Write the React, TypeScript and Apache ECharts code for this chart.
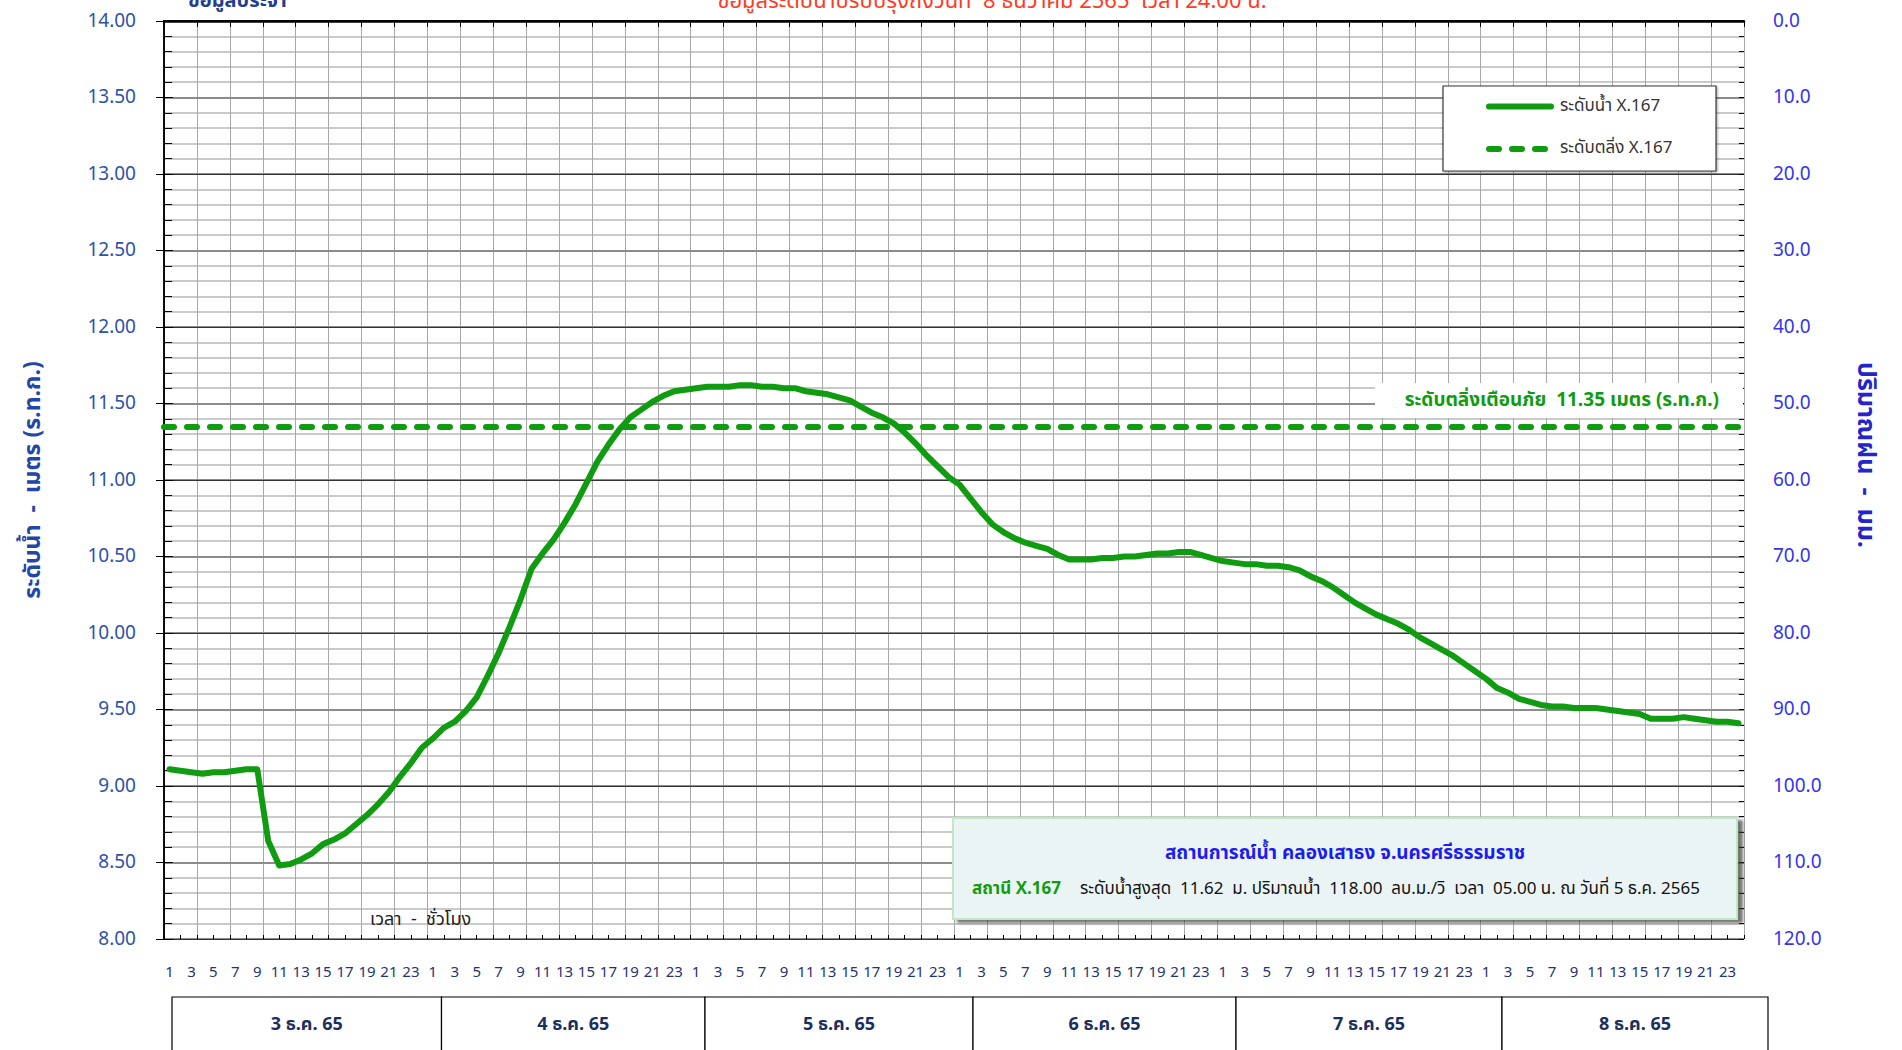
import React, { useEffect, useRef } from "react";
import * as echarts from "echarts";

const FONT = "Tahoma, 'Noto Sans Thai', 'Noto Sans', 'DejaVu Sans', sans-serif";

const hourLabels = [
  "1", "2", "3", "4", "5", "6", "7", "8", "9", "10", "11", "12",
  "13", "14", "15", "16", "17", "18", "19", "20", "21", "22", "23", "24",
];
const dayLabels = ["3 ธ.ค. 65", "4 ธ.ค. 65", "5 ธ.ค. 65", "6 ธ.ค. 65", "7 ธ.ค. 65", "8 ธ.ค. 65"];

const waterLevel = [
  // 3 Dec
  9.11, 9.10, 9.09, 9.08, 9.09, 9.09, 9.10, 9.11, 9.11, 8.64, 8.48, 8.49,
  8.52, 8.56, 8.62, 8.65, 8.69, 8.75, 8.81, 8.88, 8.96, 9.06, 9.15, 9.25,
  // 4 Dec
  9.31, 9.38, 9.42, 9.49, 9.58, 9.72, 9.87, 10.04, 10.22, 10.42, 10.52, 10.61,
  10.72, 10.84, 10.98, 11.12, 11.23, 11.33, 11.41, 11.46, 11.51, 11.55, 11.58, 11.59,
  // 5 Dec
  11.60, 11.61, 11.61, 11.61, 11.62, 11.62, 11.61, 11.61, 11.60, 11.60, 11.58, 11.57,
  11.56, 11.54, 11.52, 11.48, 11.44, 11.41, 11.37, 11.31, 11.24, 11.16, 11.09, 11.02,
  // 6 Dec
  10.97, 10.88, 10.79, 10.71, 10.66, 10.62, 10.59, 10.57, 10.55, 10.51, 10.48, 10.48,
  10.48, 10.49, 10.49, 10.50, 10.50, 10.51, 10.52, 10.52, 10.53, 10.53, 10.51, 10.49,
  // 7 Dec
  10.47, 10.46, 10.45, 10.45, 10.44, 10.44, 10.43, 10.41, 10.37, 10.34, 10.30, 10.25,
  10.20, 10.16, 10.12, 10.09, 10.06, 10.02, 9.97, 9.93, 9.89, 9.85, 9.80, 9.75,
  // 8 Dec
  9.70, 9.64, 9.61, 9.57, 9.55, 9.53, 9.52, 9.52, 9.51, 9.51, 9.51, 9.50,
  9.49, 9.48, 9.47, 9.44, 9.44, 9.44, 9.45, 9.44, 9.43, 9.42, 9.42, 9.41,
];

const bankLevel = 11.35;
const levelMin = 8;
const levelMax = 14;
const levelStep = 0.5;
const rainMin = 0;
const rainMax = 120;
const rainStep = 10;

const seriesNames = ["ระดับน้ำ X.167", "ระดับตลิ่ง X.167"];
const titleText = "ข้อมูลระดับน้ำปรับปรุงถึงวันที่  8 ธันวาคม 2565  เวลา 24.00 น.";
const topLeftText = "ข้อมูลประจำ";
const stationTitle = "สถานการณ์น้ำ คลองเสาธง จ.นครศรีธรรมราช";
const stationName = "สถานี X.167";
const maxLevel = 11.62;
const maxFlow = 118.0;
const maxTime = "05.00";
const maxDate = "5 ธ.ค. 2565";

const categories = dayLabels.flatMap((d) => hourLabels.map((h) => d + "|" + h));

const GREEN = "#109c10";

// layout of the day boxes under the axis (pixel edges)
const dayEdges = [172, 441.5, 705, 973, 1236, 1502, 1768];

export default function App() {
  const ref = useRef<HTMLDivElement>(null);

  useEffect(() => {
    if (!ref.current) return;
    const chart = echarts.init(ref.current, undefined, { renderer: "svg" });

    const hidden = {
      axisLine: { show: false },
      axisLabel: { show: false },
    };

    const dayGraphics: any[] = [];
    dayLabels.forEach((d, i) => {
      const x0 = dayEdges[i];
      const x1 = dayEdges[i + 1];
      dayGraphics.push({
        type: "rect",
        shape: { x: x0, y: 997, width: x1 - x0, height: 70 },
        style: { fill: "#fff", stroke: "#000", lineWidth: 1.2 },
        z: 5,
      });
      dayGraphics.push({
        type: "text",
        x: (x0 + x1) / 2,
        y: 1024,
        style: {
          text: d,
          fill: "#1b2f5e",
          font: "bold 18px " + FONT,
          textAlign: "center",
          textVerticalAlign: "middle",
        },
        z: 6,
      });
    });

    const option: any = {
      animation: false,
      backgroundColor: "#ffffff",
      textStyle: { fontFamily: FONT },
      grid: { left: 164, top: 21, width: 1580, height: 918, containLabel: false },
      xAxis: [
        {
          type: "category",
          data: categories,
          boundaryGap: true,
          position: "bottom",
          axisLine: { show: true, lineStyle: { color: "#000", width: 1.5 } },
          axisTick: { show: false },
          splitLine: { show: false },
          axisLabel: {
            interval: 1,
            formatter: (v: string) => v.split("|")[1],
            color: "#1f3470",
            fontSize: 15,
            margin: 26,
          },
          z: 4,
        },
        {
          type: "value",
          min: 0,
          max: 144,
          interval: 3,
          position: "bottom",
          ...hidden,
          axisTick: { show: true, length: 6, lineStyle: { color: "#000" } },
          splitLine: { show: true, lineStyle: { color: "#a8a8a8", width: 1 } },
          z: 1,
        },
        {
          type: "value",
          min: 0,
          max: 144,
          interval: 1.5,
          position: "bottom",
          ...hidden,
          axisTick: { show: true, inside: true, length: 4, lineStyle: { color: "#000" } },
          splitLine: { show: false },
          z: 4,
        },
        {
          type: "value",
          min: 0,
          max: 144,
          position: "top",
          axisLine: { show: true, lineStyle: { color: "#000", width: 2.5 } },
          axisLabel: { show: false },
          axisTick: { show: false },
          splitLine: { show: false },
          z: 4,
        },
      ],
      yAxis: [
        {
          type: "value",
          min: levelMin,
          max: levelMax,
          interval: levelStep,
          position: "left",
          axisLine: { show: true, lineStyle: { color: "#000", width: 1.5 } },
          axisTick: { show: true, length: 8, lineStyle: { color: "#000" } },
          axisLabel: {
            formatter: (v: number) => v.toFixed(2),
            color: "#2d52a8",
            fontSize: 19,
            margin: 28,
          },
          splitLine: { show: false },
          name: "ระดับน้ำ  -  เมตร (ร.ท.ก.)",
          nameLocation: "middle",
          nameGap: 120,
          nameRotate: 90,
          nameTextStyle: { color: "#2347a8", fontSize: 23, fontWeight: "bold" },
          z: 4,
        },
        {
          type: "value",
          min: rainMin,
          max: rainMax,
          interval: rainStep,
          inverse: true,
          position: "right",
          axisLine: { show: true, lineStyle: { color: "#000", width: 1.5 } },
          axisTick: { show: true, length: 9, lineStyle: { color: "#000" } },
          axisLabel: {
            formatter: (v: number) => v.toFixed(1),
            color: "#3434f0",
            fontSize: 19,
            margin: 29,
          },
          splitLine: { show: false },
          z: 4,
        },
        {
          type: "value",
          min: levelMin,
          max: levelMax,
          interval: 0.1,
          position: "left",
          ...hidden,
          axisTick: { show: true, inside: true, length: 8, lineStyle: { color: "#000" } },
          splitLine: { show: true, lineStyle: { color: "#cacaca", width: 2 } },
          z: 0,
        },
        {
          type: "value",
          min: levelMin,
          max: levelMax,
          interval: levelStep,
          position: "left",
          ...hidden,
          axisTick: { show: false },
          splitLine: { show: true, lineStyle: { color: "#8c8c8c", width: 2 } },
          z: 2,
        },
        {
          type: "value",
          min: levelMin,
          max: levelMax,
          interval: 1,
          position: "left",
          ...hidden,
          axisTick: { show: false },
          splitLine: { show: true, lineStyle: { color: "#333333", width: 1 } },
          z: 3,
        },
        {
          type: "value",
          min: rainMin,
          max: rainMax,
          interval: 2,
          inverse: true,
          position: "right",
          ...hidden,
          axisTick: { show: true, inside: true, length: 5, lineStyle: { color: "#000" } },
          splitLine: { show: false },
          z: 4,
        },
      ],
      series: [
        {
          name: seriesNames[0],
          type: "line",
          xAxisIndex: 0,
          yAxisIndex: 0,
          data: waterLevel,
          symbol: "none",
          smooth: false,
          lineStyle: { color: GREEN, width: 6, join: "round", cap: "round" },
          z: 10,
          markLine: {
            silent: true,
            symbol: ["none", "none"],
            label: { show: false },
            lineStyle: { color: GREEN, width: 6, type: [10, 13], cap: "round" },
            data: [{ name: seriesNames[1], yAxis: bankLevel }],
          },
        },
      ],
      graphic: [
        // top texts (cut off at top, as in the source image)
        {
          type: "text",
          x: 992,
          y: 1,
          style: {
            text: titleText,
            fill: "#ff3b1f",
            font: "22px " + FONT,
            textAlign: "center",
            textVerticalAlign: "middle",
          },
          z: 6,
        },
        {
          type: "text",
          x: 188,
          y: 1,
          style: {
            text: topLeftText,
            fill: "#1f3f8f",
            font: "bold 20px " + FONT,
            textAlign: "left",
            textVerticalAlign: "middle",
          },
          z: 6,
        },
        // right axis name
        {
          type: "text",
          x: 1866,
          y: 455,
          rotation: -Math.PI / 2,
          style: {
            text: "ปริมาณฝน  -  มม.",
            fill: "#2424cc",
            font: "bold 25px " + FONT,
            textAlign: "center",
            textVerticalAlign: "middle",
          },
          z: 6,
        },
        // legend
        {
          type: "rect",
          shape: { x: 1443, y: 86, width: 273, height: 85 },
          style: {
            fill: "#fff",
            stroke: "#3a3a3a",
            lineWidth: 1.2,
            shadowBlur: 2,
            shadowOffsetX: 1,
            shadowOffsetY: 1,
            shadowColor: "rgba(0,0,0,0.35)",
          },
          z: 5,
        },
        {
          type: "line",
          shape: { x1: 1489, y1: 106.5, x2: 1551, y2: 106.5 },
          style: { stroke: GREEN, lineWidth: 6, lineCap: "round" },
          z: 6,
        },
        {
          type: "line",
          shape: { x1: 1489, y1: 149, x2: 1551, y2: 149 },
          style: { stroke: GREEN, lineWidth: 6, lineCap: "round", lineDash: [10, 13] },
          z: 6,
        },
        {
          type: "text",
          x: 1560,
          y: 106,
          style: {
            text: seriesNames[0],
            fill: "#333",
            font: "17px " + FONT,
            textAlign: "left",
            textVerticalAlign: "middle",
          },
          z: 6,
        },
        {
          type: "text",
          x: 1560,
          y: 148,
          style: {
            text: seriesNames[1],
            fill: "#333",
            font: "17px " + FONT,
            textAlign: "left",
            textVerticalAlign: "middle",
          },
          z: 6,
        },
        // bank label
        {
          type: "rect",
          shape: { x: 1375, y: 383, width: 368, height: 35 },
          style: { fill: "#fff" },
          z: 5,
        },
        {
          type: "text",
          x: 1719,
          y: 400,
          style: {
            text: "ระดับตลิ่งเตือนภัย  " + bankLevel.toFixed(2) + " เมตร (ร.ท.ก.)",
            fill: GREEN,
            font: "bold 19px " + FONT,
            textAlign: "right",
            textVerticalAlign: "middle",
          },
          z: 6,
        },
        // info box
        {
          type: "rect",
          shape: { x: 953, y: 818, width: 784, height: 101 },
          style: {
            fill: "#eaf4f4",
            stroke: "#bfeabf",
            lineWidth: 2,
            shadowBlur: 3,
            shadowOffsetX: 5,
            shadowOffsetY: 3,
            shadowColor: "rgba(60,60,60,0.7)",
          },
          z: 5,
        },
        {
          type: "text",
          x: 1345,
          y: 853,
          style: {
            text: stationTitle,
            fill: "#1c1cf0",
            font: "bold 19px " + FONT,
            textAlign: "center",
            textVerticalAlign: "middle",
          },
          z: 6,
        },
        {
          type: "text",
          x: 972,
          y: 889,
          style: {
            text: stationName,
            fill: GREEN,
            font: "bold 17px " + FONT,
            textAlign: "left",
            textVerticalAlign: "middle",
          },
          z: 6,
        },
        {
          type: "text",
          x: 1080,
          y: 889,
          style: {
            text:
              "ระดับน้ำสูงสุด  " +
              maxLevel.toFixed(2) +
              "  ม. ปริมาณน้ำ  " +
              maxFlow.toFixed(2) +
              "  ลบ.ม./วิ  เวลา  " +
              maxTime +
              " น. ณ วันที่ " +
              maxDate,
            fill: "#111",
            font: "17px " + FONT,
            textAlign: "left",
            textVerticalAlign: "middle",
          },
          z: 6,
        },
        // x axis caption
        {
          type: "text",
          x: 370,
          y: 919,
          style: {
            text: "เวลา  -  ชั่วโมง",
            fill: "#222",
            font: "18px " + FONT,
            textAlign: "left",
            textVerticalAlign: "middle",
          },
          z: 6,
        },
        ...dayGraphics,
      ],
    };

    chart.setOption(option);
    return () => {
      chart.dispose();
    };
  }, []);

  return (
    <div
      ref={ref}
      style={{ position: "absolute", left: 0, top: 0, width: 1902, height: 1050, background: "#fff" }}
    />
  );
}
